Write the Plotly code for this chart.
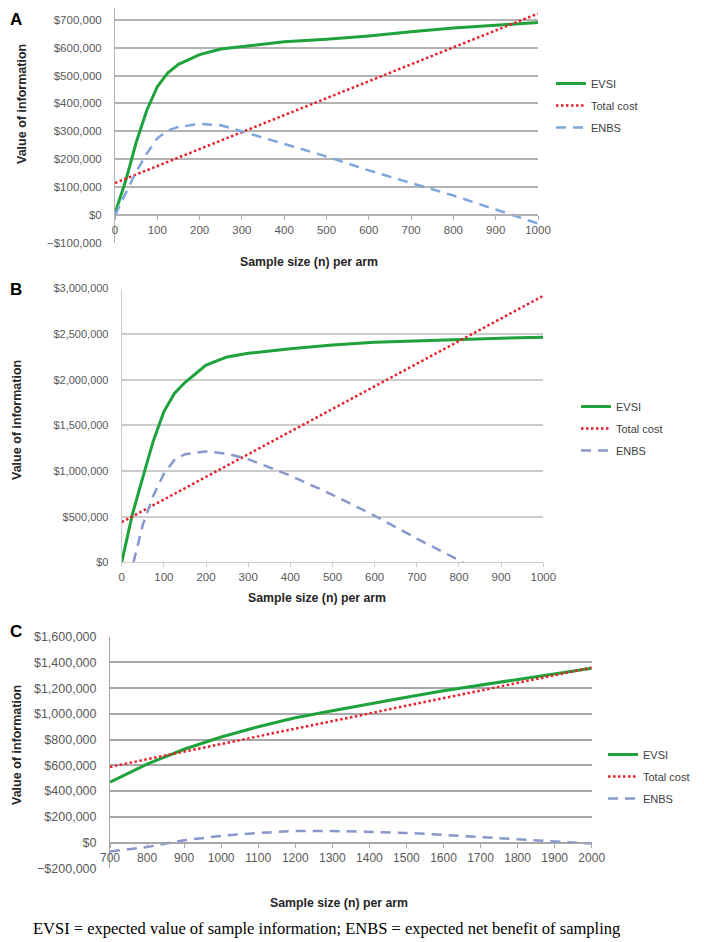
import plotly.graph_objects as go

# ---------------- data ----------------
# Panel A
a_n = [0, 25, 50, 75, 100, 125, 150, 200, 250, 300, 400, 500, 600, 700, 800, 900, 1000]
a_evsi = [6000, 122000, 260000, 375000, 460000, 510000, 540000, 575000, 595000, 603000,
          621000, 630000, 642000, 657000, 670000, 680000, 690000]
a_cost_n = [0, 200, 400, 600, 800, 1000]
a_cost = [115000, 237000, 358000, 480000, 601000, 722000]
a_enbs = [0, 80000, 155000, 220000, 275000, 303000, 316000, 327000, 322000, 300000,
          255000, 210000, 160000, 115000, 70000, 20000, -30000]

# Panel B
b_n = [0, 25, 50, 75, 100, 125, 150, 200, 250, 300, 400, 500, 600, 700, 800, 900, 1000]
b_evsi = [0, 520000, 930000, 1330000, 1650000, 1850000, 1970000, 2160000, 2250000, 2290000,
          2340000, 2380000, 2410000, 2425000, 2445000, 2455000, 2465000]
b_cost_n = [0, 200, 400, 600, 800, 1000]
b_cost = [440000, 936000, 1432000, 1928000, 2424000, 2920000]
b_enbs_n = [28, 50, 75, 100, 125, 150, 200, 250, 300, 400, 500, 600, 700, 810]
b_enbs = [0, 410000, 730000, 970000, 1120000, 1185000, 1215000, 1190000, 1130000,
          950000, 740000, 510000, 260000, 0]

# Panel C
c_n = [700, 800, 900, 1000, 1100, 1200, 1300, 1400, 1500, 1600, 1700, 1800, 1900, 2000]
c_evsi = [470000, 610000, 725000, 820000, 900000, 970000, 1025000, 1080000, 1130000,
          1180000, 1225000, 1270000, 1315000, 1355000]
c_cost_n = [700, 1000, 1300, 1600, 2000]
c_cost = [588000, 766000, 945000, 1123000, 1360000]
c_enbs = [-70000, -35000, 18000, 52000, 75000, 90000, 90000, 82000, 75000, 60000,
          44000, 28000, 12000, -8000]

series_names = ["EVSI", "Total cost", "ENBS"]
panel_letters = ["A", "B", "C"]
x_title = "Sample size (n) per arm"
y_title = "Value of information"
caption = "EVSI = expected value of sample information; ENBS = expected net benefit of sampling"

# ---------------- layout helpers ----------------
W, H = 704, 942
OFF = 8  # page body margin offset


def px_x(p):
    return (p - OFF) / W


def px_y(p):
    return 1 - (p - OFF) / H


GREEN = "#1ea23c"
RED = "#e8202a"
BLUE_A = "#7fa6dc"
BLUE_BC = "#8799cc"
GRID_A = "#b2b2b2"
GRID_B = "#cccccc"
GRID_C = "#a8a8a8"
TICKC = "#595959"
FONT = "Liberation Sans"

fig = go.Figure()


def add_panel(idx, n, evsi, cost_n, cost, enbs_n, enbs, blue, legend):
    xa = "x" if idx == 1 else f"x{idx}"
    ya = "y" if idx == 1 else f"y{idx}"
    fig.add_trace(go.Scatter(x=n, y=evsi, mode="lines", name=series_names[0],
                             line=dict(color=GREEN, width=3), xaxis=xa, yaxis=ya,
                             legend=legend, legendgroup=f"{idx}a"))
    fig.add_trace(go.Scatter(x=cost_n, y=cost, mode="lines", name=series_names[1],
                             line=dict(color=RED, width=2.5, dash="2.5px,2.5px"),
                             xaxis=xa, yaxis=ya, legend=legend, legendgroup=f"{idx}b"))
    fig.add_trace(go.Scatter(x=enbs_n, y=enbs, mode="lines", name=series_names[2],
                             line=dict(color=blue, width=2.5, dash="10px,7px"),
                             xaxis=xa, yaxis=ya, legend=legend, legendgroup=f"{idx}c"))


add_panel(1, a_n, a_evsi, a_cost_n, a_cost, a_n, a_enbs, BLUE_A, "legend")
add_panel(2, b_n, b_evsi, b_cost_n, b_cost, b_enbs_n, b_enbs, BLUE_BC, "legend2")
add_panel(3, c_n, c_evsi, c_cost_n, c_cost, c_n, c_enbs, BLUE_BC, "legend3")


def tf(size):
    return dict(family=FONT, size=size, color=TICKC)


# Panel A axes (x axis crosses at y=0); top of plot area at page y=8
a_dom_y = [px_y(243), px_y(8)]
a_yr = [-100000, 742000]
a_zero = a_dom_y[0] + (a_dom_y[1] - a_dom_y[0]) * (0 - a_yr[0]) / (a_yr[1] - a_yr[0])
# Panel C axes
c_dom_y = [px_y(868.3), px_y(636.7)]
c_yr = [-200000, 1600000]
c_zero = c_dom_y[0] + (c_dom_y[1] - c_dom_y[0]) * (0 - c_yr[0]) / (c_yr[1] - c_yr[0])


def cx(grid):
    return dict(showgrid=False, zeroline=False, showline=True, linecolor=grid, linewidth=1,
                ticks="outside", ticklen=4, tickcolor=grid, automargin=False)


def cy(grid):
    return dict(showgrid=True, gridcolor=grid, gridwidth=1.8, zeroline=False, showline=True,
                linecolor=grid, linewidth=1, ticks="", tickformat="$,d",
                ticklabelstandoff=10, automargin=False)


legfont = dict(family=FONT, size=11, color="#404040")
fig.update_layout(
    width=W, height=H,
    margin=dict(l=0, r=0, t=0, b=0, pad=0, autoexpand=False),
    paper_bgcolor="white", plot_bgcolor="white",
    font=dict(family=FONT, color="#262626"),
    xaxis=dict(domain=[px_x(115), px_x(538)], range=[0, 1000], dtick=100,
               anchor="free", position=a_zero, tickfont=tf(11.5), **cx(GRID_A)),
    yaxis=dict(domain=a_dom_y, range=a_yr, dtick=100000, anchor="x", tickfont=tf(11.5),
               **cy(GRID_A)),
    xaxis2=dict(domain=[px_x(121.7), px_x(543.3)], range=[0, 1000], dtick=100,
                anchor="y2", tickfont=tf(11.5), **cx(GRID_B)),
    yaxis2=dict(domain=[px_y(562.3), px_y(288.5)], range=[0, 3000000], dtick=500000,
                anchor="x2", tickfont=tf(11), **cy(GRID_B)),
    xaxis3=dict(domain=[px_x(110), px_x(591.7)], range=[700, 2000], dtick=100,
                anchor="free", position=c_zero, tickfont=tf(12), **cx(GRID_C)),
    yaxis3=dict(domain=c_dom_y, range=c_yr, dtick=200000, anchor="x3", tickfont=tf(12.5),
                **cy(GRID_C)),
    legend=dict(x=px_x(551), y=px_y(69), xanchor="left", yanchor="top", font=legfont,
                traceorder="grouped", tracegroupgap=3, bgcolor="rgba(0,0,0,0)"),
    legend2=dict(x=px_x(576), y=px_y(392), xanchor="left", yanchor="top", font=legfont,
                 traceorder="grouped", tracegroupgap=3, bgcolor="rgba(0,0,0,0)"),
    legend3=dict(x=px_x(603), y=px_y(740), xanchor="left", yanchor="top", font=legfont,
                 traceorder="grouped", tracegroupgap=3, bgcolor="rgba(0,0,0,0)"),
)

ann = []
# panel letters
for letter, (lx, ly) in zip(panel_letters, [(16, 20), (16, 290), (16, 631)]):
    ann.append(dict(text=f"<b>{letter}</b>", x=px_x(lx), y=px_y(ly), xref="paper", yref="paper",
                    showarrow=False, xanchor="center", yanchor="middle",
                    font=dict(family="Liberation Sans", size=17, color="black")))
# x titles
for (xx, yy) in [(309, 262), (317, 597.7), (339, 903)]:
    ann.append(dict(text=f"<b>{x_title}</b>", x=px_x(xx), y=px_y(yy), xref="paper", yref="paper",
                    showarrow=False, xanchor="center", yanchor="middle",
                    font=dict(family=FONT, size=12.3, color="#262626")))
# y titles
for (xx, yy) in [(22, 104), (17, 420), (17, 745)]:
    ann.append(dict(text=f"<b>{y_title}</b>", x=px_x(xx), y=px_y(yy), xref="paper", yref="paper",
                    showarrow=False, xanchor="center", yanchor="middle", textangle=-90,
                    font=dict(family=FONT, size=12.5, color="#262626")))
# caption
ann.append(dict(text=caption, x=px_x(31), y=px_y(928), xref="paper", yref="paper",
                showarrow=False, xanchor="left", yanchor="middle",
                font=dict(family="Liberation Serif", size=16.5, color="black")))
fig.update_layout(annotations=ann)

fig.write_html("out.html")
